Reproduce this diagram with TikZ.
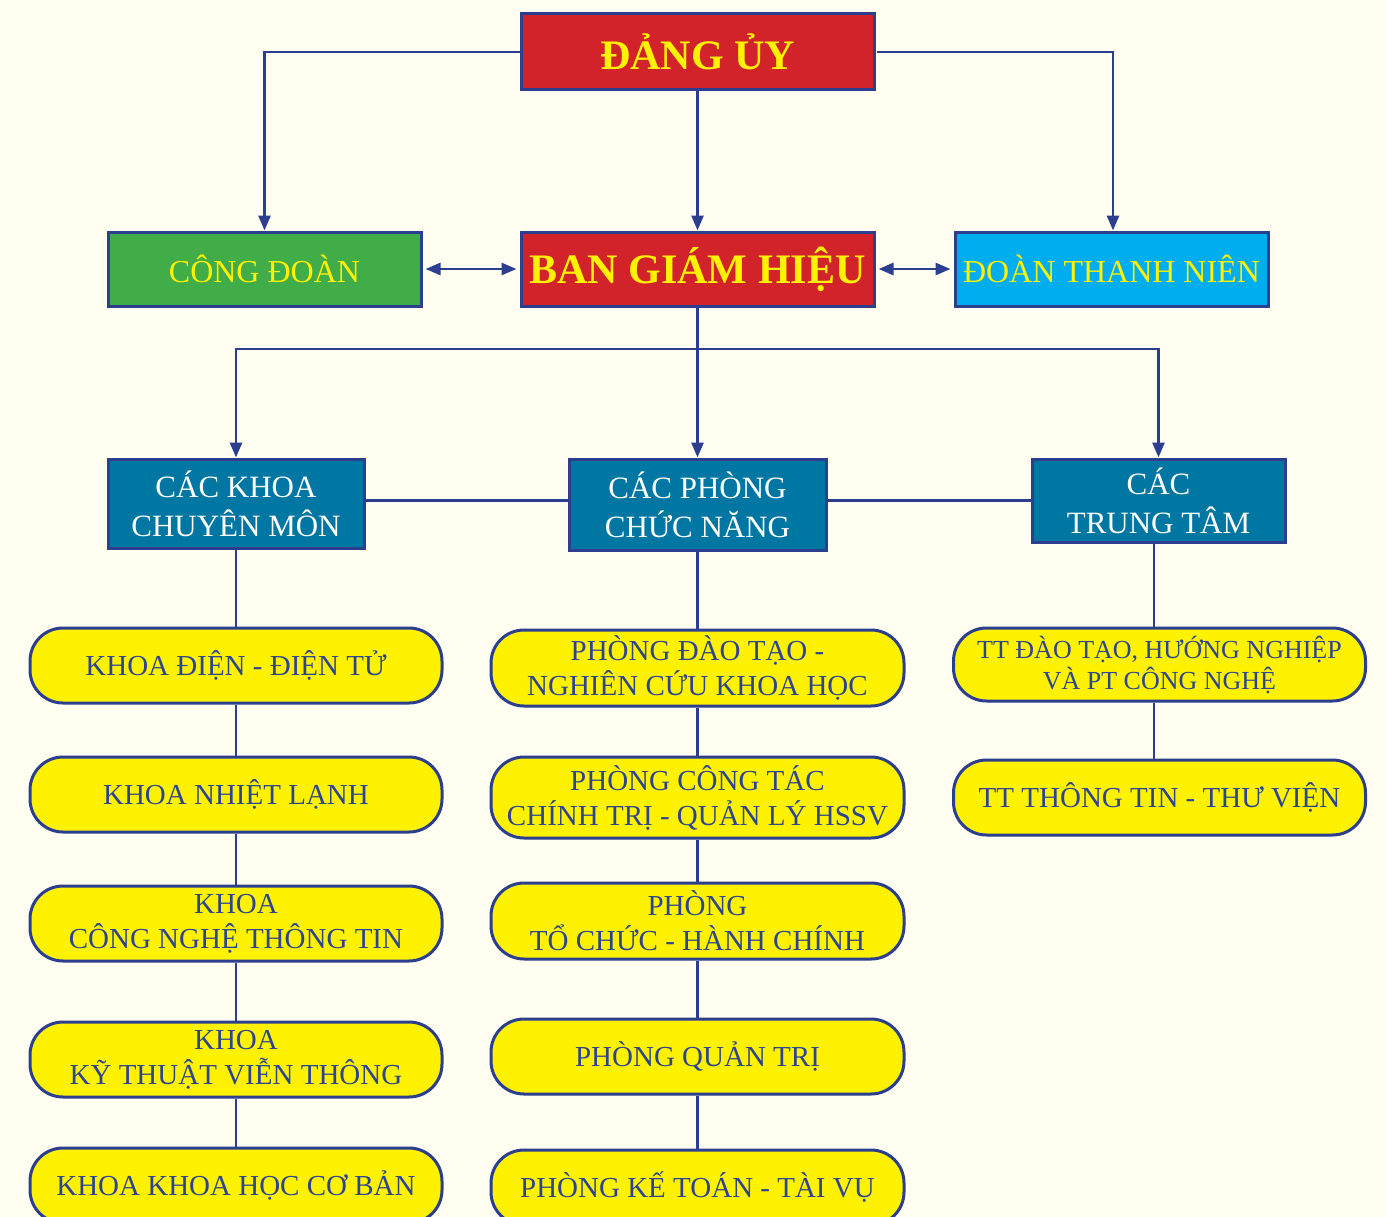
\documentclass[tikz,border=0pt]{standalone}
\usepackage{fontspec}
\setmainfont{Liberation Serif}
\usetikzlibrary{arrows.meta}
\definecolor{bgc}{HTML}{FFFEF0}
\definecolor{redc}{HTML}{D2232A}
\definecolor{greenc}{HTML}{41AD49}
\definecolor{cyanc}{HTML}{00AEEF}
\definecolor{tealc}{HTML}{0077A3}
\definecolor{yfill}{HTML}{FFF200}
\definecolor{lineblue}{HTML}{2B3F8E}
\definecolor{ytext}{HTML}{2D4590}
\definecolor{ylwtext}{HTML}{FFF200}
\tikzset{
  topbox/.style={rectangle, draw=lineblue, line width=3pt, inner sep=0pt, text=ylwtext, font=\fontsize{32}{38}\selectfont},
  bigbox/.style={topbox, fill=redc, font=\bfseries\fontsize{42}{48}\selectfont, minimum width=353pt},
  tealbox/.style={rectangle, draw=lineblue, line width=3pt, fill=tealc, text=white, inner sep=0pt, align=center, font=\fontsize{31}{39}\selectfont},
  ybox/.style={rectangle, rounded corners=33pt, draw=lineblue, line width=3pt, fill=yfill, text=ytext, inner sep=0pt, align=center, minimum width=412pt, minimum height=75pt, font=\fontsize{29}{35}\selectfont},
  conn/.style={draw=lineblue, line width=2.8pt},
  tip/.style={-{Triangle[length=15pt,width=12pt]}},
  dtip/.style={{Triangle[length=15pt,width=12pt]}-{Triangle[length=15pt,width=12pt]}}
}
\begin{document}
\begin{tikzpicture}[x=1pt,y=-1pt]
\useasboundingbox (0,0) rectangle (1386,1217);
\fill[bgc] (0,0) rectangle (1386,1217);
\clip (0,0) rectangle (1386,1217);

% top level
\node[bigbox, minimum height=76pt] (dang) at (697.5,52) {ĐẢNG ỦY};
\node[topbox, fill=greenc, minimum width=313pt, minimum height=74pt] (cd) at (264.5,269) {CÔNG ĐOÀN};
\node[bigbox, minimum height=74pt] (bgh) at (697.5,269) {BAN GIÁM HIỆU};
\node[topbox, fill=cyanc, minimum width=313pt, minimum height=74pt] (dtn) at (1111.5,269) {ĐOÀN THANH NIÊN};

% second level
\node[tealbox, minimum width=256pt, minimum height=89pt] (ckhoa) at (236,503.5) {CÁC KHOA\\CHUYÊN MÔN};
\node[tealbox, minimum width=257pt, minimum height=91pt] (cphong) at (697.5,504.5) {CÁC PHÒNG\\CHỨC NĂNG};
\node[tealbox, minimum width=253pt, minimum height=83pt] (ctt) at (1158.5,500.5) {CÁC\\TRUNG TÂM};

% left column
\node[ybox] (k1) at (236,665.5) {KHOA ĐIỆN - ĐIỆN TỬ};
\node[ybox] (k2) at (236,794.5) {KHOA NHIỆT LẠNH};
\node[ybox] (k3) at (236,923.5) {KHOA\\CÔNG NGHỆ THÔNG TIN};
\node[ybox] (k4) at (236,1059.5) {KHOA\\KỸ THUẬT VIỄN THÔNG};
\node[ybox] (k5) at (236,1185.5) {KHOA KHOA HỌC CƠ BẢN};

% middle column
\node[ybox, minimum width=413pt, minimum height=76pt] (p1) at (697.5,668) {PHÒNG ĐÀO TẠO -\\NGHIÊN CỨU KHOA HỌC};
\node[ybox, minimum width=413pt, minimum height=81pt] (p2) at (697.5,797.5) {PHÒNG CÔNG TÁC\\CHÍNH TRỊ - QUẢN LÝ HSSV};
\node[ybox, minimum width=413pt, minimum height=76pt] (p3) at (697.5,921) {PHÒNG\\TỔ CHỨC - HÀNH CHÍNH};
\node[ybox, minimum width=413pt] (p4) at (697.5,1056.5) {PHÒNG QUẢN TRỊ};
\node[ybox, minimum width=413pt] (p5) at (697.5,1187.5) {PHÒNG KẾ TOÁN - TÀI VỤ};

% right column
\node[ybox, minimum height=73pt, font=\fontsize{26}{31}\selectfont] (t1) at (1159.5,664.5) {TT ĐÀO TẠO, HƯỚNG NGHIỆP\\VÀ PT CÔNG NGHỆ};
\node[ybox] (t2) at (1159.5,797.5) {TT THÔNG TIN - THƯ VIỆN};

% connectors from top
\draw[conn, tip] (dang.west) -| (cd.north);
\draw[conn, tip] (dang.south) -- (bgh.north);
\draw[conn, tip] ([xshift=1.5pt]dang.east) -| ([xshift=1.5pt]dtn.north);
\draw[conn, dtip, shorten <=3pt, shorten >=3pt] (cd.east) -- (bgh.west);
\draw[conn, dtip, shorten <=3pt, shorten >=3pt] (bgh.east) -- (dtn.west);

% bus
\coordinate (bus) at (697.5,349);
\draw[conn] (bgh.south) -- (bus);
\draw[conn, tip] (bus) -| (ckhoa.north);
\draw[conn, tip] (bus) -- (cphong.north);
\draw[conn, tip] (bus) -| (ctt.north);

% horizontal links between second-level boxes
\draw[conn] (ckhoa.east |- ctt.west) -- (cphong.west |- ctt.west);
\draw[conn] (cphong.east |- ctt.west) -- (ctt.west);

% column links
\draw[conn] (ckhoa.south) -- (k1.north);
\draw[conn] (k1.south) -- (k2.north);
\draw[conn] (k2.south) -- (k3.north);
\draw[conn] (k3.south) -- (k4.north);
\draw[conn] (k4.south) -- (k5.north);

\draw[conn] (cphong.south) -- (p1.north);
\draw[conn] (p1.south) -- (p2.north);
\draw[conn] (p2.south) -- (p3.north);
\draw[conn] (p3.south) -- (p4.north);
\draw[conn] (p4.south) -- (p5.north);

\draw[conn] ([xshift=-4.5pt]ctt.south) -- ([xshift=-5.5pt]t1.north);
\draw[conn] ([xshift=-5.5pt]t1.south) -- ([xshift=-5.5pt]t2.north);
\end{tikzpicture}
\end{document}
